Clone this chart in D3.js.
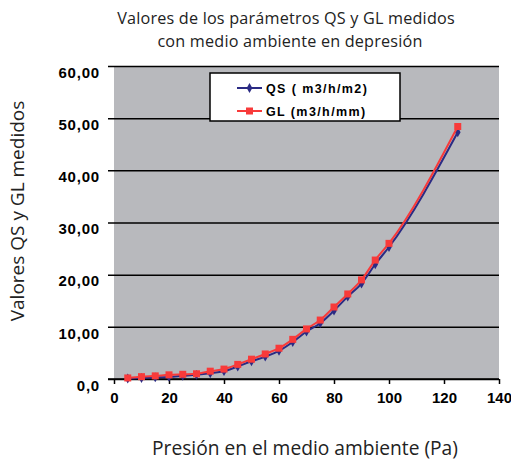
<!DOCTYPE html>
<html>
<head>
<meta charset="utf-8">
<title>QS y GL</title>
<style>
  body { margin: 0; background: #fff; }
</style>
</head>
<body>
<script src="https://d3js.org/d3.v7.min.js"></script>
<script>
// data
var pressure = [5, 10, 15, 20, 25, 30, 35, 40, 45, 50, 55, 60, 65, 70, 75, 80, 85, 90, 95, 100, 125];
var qs = [0.1, 0.2, 0.3, 0.4, 0.6, 0.8, 1.1, 1.5, 2.4, 3.4, 4.3, 5.4, 7.1, 9.1, 10.7, 13.1, 15.8, 18.3, 22.0, 25.3, 47.3];
var gl = [0.2, 0.45, 0.6, 0.8, 0.9, 1.0, 1.5, 1.9, 2.8, 3.8, 4.8, 5.9, 7.6, 9.6, 11.3, 13.8, 16.3, 19.0, 22.8, 26.0, 48.4];
var xTicks = [0, 20, 40, 60, 80, 100, 120, 140];
var yTicks = [0, 10, 20, 30, 40, 50, 60];
var yTickLabels = ["0,0", "10,00", "20,00", "30,00", "40,00", "50,00", "60,00"];
var seriesNames = ["QS ( m3/h/m2)", "GL (m3/h/mm)"];

const width = 511, height = 462;
var x = d3.scaleLinear().domain([0, 140]).range([114, 499]);
var y = d3.scaleLinear().domain([0, 60]).range([379, 66]);

var svg = d3.select("body").append("svg")
    .attr("width", width)
    .attr("height", height);

// gray plot area
svg.append("rect")
    .attr("x", x(0)).attr("y", y(60))
    .attr("width", x(140) - x(0)).attr("height", y(0) - y(60))
    .attr("fill", "#b8b9bd");

// horizontal gridlines with ticks to the left
var yAxis = d3.axisLeft(y)
    .tickValues(yTicks)
    .tickSize(-(x(140) - x(0)))
    .tickFormat(function(d, i) { return yTickLabels[i]; });
var gy = svg.append("g").attr("transform", "translate(" + x(0) + ",0)").call(yAxis);
gy.select(".domain").remove();
gy.selectAll(".tick line").attr("stroke", "#000").attr("stroke-width", 1.5).attr("x2", x(140) - x(0)).attr("x1", -6);
gy.selectAll(".tick text")
    .attr("x", -14)
    .attr("dy", "0.75em")
    .style("font-family", "Liberation Sans, Arial, sans-serif")
    .style("font-weight", "bold")
    .style("font-size", "15px")
    .style("letter-spacing", "0.8px")
    .attr("fill", "#000");

// x axis
var xAxis = d3.axisBottom(x).tickValues(xTicks).tickSize(5).tickSizeOuter(0);
var gx = svg.append("g").attr("transform", "translate(0," + y(0) + ")").call(xAxis);
gx.select(".domain").attr("stroke", "#000").attr("stroke-width", 1.5).attr("d", "M108,0H" + x(140));
gx.selectAll(".tick line").attr("stroke", "#000").attr("stroke-width", 1.5);
gx.selectAll(".tick text")
    .attr("y", 13)
    .attr("dy", "0.71em")
    .style("font-family", "Liberation Sans, Arial, sans-serif")
    .style("font-weight", "bold")
    .style("font-size", "15px")
    .attr("fill", "#000");

// series
var navy = "#2b2b84", red = "#f83a3a";
var line = d3.line().curve(d3.curveMonotoneX)
    .x(function(d) { return x(d[0]); })
    .y(function(d) { return y(d[1]); });

var qsPts = pressure.map(function(p, i) { return [p, qs[i]]; });
var glPts = pressure.map(function(p, i) { return [p, gl[i]]; });

svg.append("path").datum(qsPts).attr("d", line)
    .attr("fill", "none").attr("stroke", navy).attr("stroke-width", 2);
svg.selectAll(".qs").data(qsPts).enter().append("path")
    .attr("class", "qs")
    .attr("transform", function(d) { return "translate(" + x(d[0]) + "," + y(d[1]) + ")"; })
    .attr("d", d3.symbol().type(d3.symbolDiamond).size(28))
    .attr("fill", navy);

svg.append("path").datum(glPts).attr("d", line)
    .attr("fill", "none").attr("stroke", red).attr("stroke-width", 2);
svg.selectAll(".gl").data(glPts).enter().append("rect")
    .attr("class", "gl")
    .attr("x", function(d) { return x(d[0]) - 3.5; })
    .attr("y", function(d) { return y(d[1]) - 3.5; })
    .attr("width", 7).attr("height", 7)
    .attr("fill", red);

// legend
var lg = svg.append("g");
lg.append("rect")
    .attr("x", 210).attr("y", 73).attr("width", 190).attr("height", 48)
    .attr("fill", "#fff").attr("stroke", "#000").attr("stroke-width", 1.5);
var colors = [navy, red];
seriesNames.forEach(function(name, i) {
    var ly = 88 + i * 23;
    lg.append("line").attr("x1", 237).attr("x2", 262).attr("y1", ly).attr("y2", ly)
        .attr("stroke", colors[i]).attr("stroke-width", 2);
    if (i == 0) {
        lg.append("path").attr("transform", "translate(249.5," + ly + ")")
            .attr("d", d3.symbol().type(d3.symbolDiamond).size(28)).attr("fill", navy);
    } else {
        lg.append("rect").attr("x", 246).attr("y", ly - 3.5).attr("width", 7).attr("height", 7).attr("fill", red);
    }
    lg.append("text").attr("x", 266).attr("y", ly).attr("dy", "0.36em")
        .style("font-family", "Liberation Sans, Arial, sans-serif")
        .style("font-weight", "bold")
        .style("font-size", "12.5px")
        .style("letter-spacing", "1.4px")
        .text(name);
});

// titles
var titleFont = "'Open Sans', 'Noto Sans', sans-serif";
svg.append("text").attr("x", 286).attr("y", 24).attr("text-anchor", "middle")
    .style("font-family", titleFont).style("font-size", "16.2px").attr("fill", "#222")
    .style("letter-spacing", "0.2px")
    .text("Valores de los parámetros QS y GL medidos");
svg.append("text").attr("x", 290).attr("y", 47).attr("text-anchor", "middle")
    .style("font-family", titleFont).style("font-size", "16.2px").attr("fill", "#222")
    .style("letter-spacing", "0.2px")
    .text("con medio ambiente en depresión");

svg.append("text").attr("x", 305).attr("y", 455).attr("text-anchor", "middle")
    .style("font-family", titleFont).style("font-size", "19.2px").attr("fill", "#222")
    .text("Presión en el medio ambiente (Pa)");

svg.append("text")
    .attr("transform", "translate(24,211) rotate(-90)")
    .attr("text-anchor", "middle")
    .style("font-family", titleFont).style("font-size", "19px").attr("fill", "#222")
    .text("Valores QS y GL medidos");
</script>
</body>
</html>
